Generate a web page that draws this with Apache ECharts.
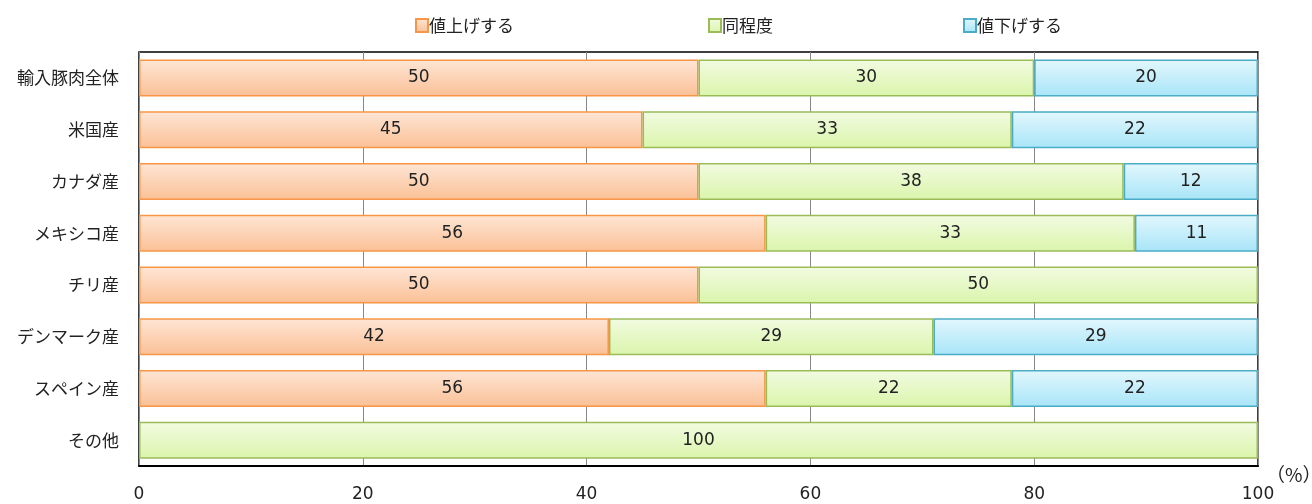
<!DOCTYPE html>
<html>
<head>
<meta charset="utf-8">
<script src="https://cdn.jsdelivr.net/npm/echarts@6/dist/echarts.min.js"></script>
<style>
  html, body { margin: 0; padding: 0; background: #fff; }
  #chart { width: 1312px; height: 504px; }
</style>
</head>
<body>
<div id="chart"></div>
<script>
// Price outlook for imported pork, by origin (%)
const categories = ['輸入豚肉全体', '米国産', 'カナダ産', 'メキシコ産', 'チリ産', 'デンマーク産', 'スペイン産', 'その他'];
const seriesNames = ['値上げする', '同程度', '値下げする'];
const raiseValues = [50, 45, 50, 56, 50, 42, 56, 0];
const sameValues  = [30, 33, 38, 33, 50, 29, 22, 100];
const lowerValues = [20, 22, 12, 11, 0, 29, 22, 0];
const xTicks = [0, 20, 40, 60, 80, 100];

const JP = '"Noto Sans CJK JP", "Noto Sans", sans-serif';
const NUM = '"DejaVu Sans", Verdana, sans-serif';

function grad(top, bottom) {
  return new echarts.graphic.LinearGradient(0, 0, 0, 1, [
    { offset: 0, color: top },
    { offset: 1, color: bottom }
  ]);
}

const styles = [
  { fill: grad('#fee6d6', '#fbc096'), border: '#f79646' },
  { fill: grad('#f2fbe2', '#daf5ab'), border: '#9bbb59' },
  { fill: grad('#e3f7fd', '#a8e5f8'), border: '#4bacc6' }
];

const valueSets = [raiseValues, sameValues, lowerValues];

const chart = echarts.init(document.getElementById('chart'), null, { renderer: 'canvas' });

const series = seriesNames.map((name, i) => ({
  name,
  type: 'bar',
  stack: 'total',
  barWidth: 37,
  data: valueSets[i].map(v => (v === 0 ? '-' : v)),
  itemStyle: { color: styles[i].fill, borderColor: styles[i].border, borderWidth: 1.5 },
  label: {
    show: true,
    position: 'inside',
    color: '#222',
    fontFamily: NUM,
    fontSize: 17,
    formatter: p => (p.value ? String(p.value) : '')
  },
  emphasis: { disabled: true },
  animation: false
}));

const legendLefts = [410, 703, 958];
const legends = seriesNames.map((name, i) => ({
  data: [name],
  left: legendLefts[i],
  top: 12,
  icon: 'rect',
  itemWidth: 12,
  itemHeight: 13,
  itemGap: 0,
  textStyle: { fontFamily: JP, fontSize: 17, color: '#222', padding: [0, 0, 0, -4] },
  selectedMode: false
}));

chart.setOption({
  backgroundColor: '#fff',
  animation: false,
  legend: legends,
  grid: {
    left: 139, right: 54, top: 52, bottom: 38,
    show: true, borderColor: '#000', borderWidth: 1.5, backgroundColor: 'transparent'
  },
  xAxis: {
    type: 'value',
    min: xTicks[0],
    max: xTicks[xTicks.length - 1],
    interval: 20,
    axisLine: { show: true, lineStyle: { color: '#000', width: 2 } },
    axisTick: { show: false },
    splitLine: { show: true, lineStyle: { color: '#888', width: 1 } },
    axisLabel: {
      margin: 20,
      fontFamily: NUM,
      fontSize: 17,
      color: '#222',
      formatter: v => (xTicks.includes(v) ? String(v) : '')
    }
  },
  yAxis: {
    type: 'category',
    data: categories,
    inverse: true,
    axisLine: { show: true, lineStyle: { color: '#888', width: 1 } },
    axisTick: { show: false },
    axisLabel: { margin: 20, fontFamily: JP, fontSize: 17, color: '#222' }
  },
  graphic: [{
    type: 'text',
    left: 1266,
    top: 465,
    style: { text: '（%）', fontFamily: JP, fontSize: 19, fill: '#222' }
  }],
  series
});
</script>
</body>
</html>
